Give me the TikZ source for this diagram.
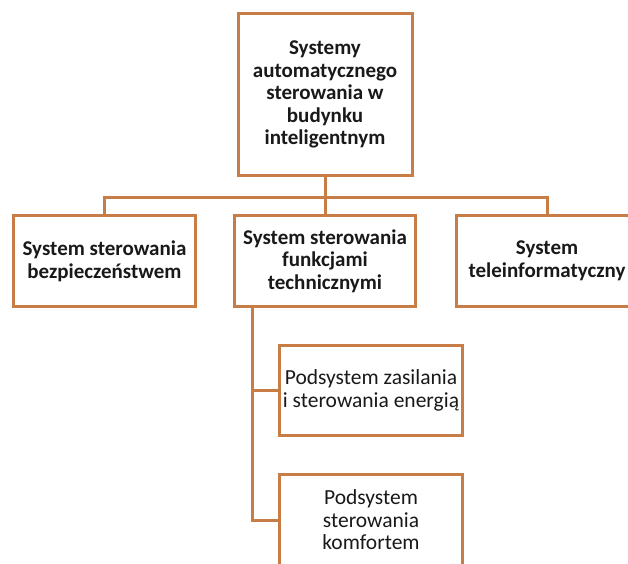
\documentclass[tikz,border=0pt]{standalone}
\usepackage{fontspec}
\setmainfont{Carlito}
\usepackage{xcolor}
\usepackage{tikz}
\usetikzlibrary{positioning}

\definecolor{ramka}{RGB}{200,125,70}
\definecolor{tekst}{RGB}{25,25,25}

\begin{document}
\begin{tikzpicture}[x=1pt, y=-1pt,
    box/.style={draw=ramka, line width=3pt, fill=white, align=center,
      text=tekst, font=\fontsize{21}{22.6}\selectfont\bfseries, inner sep=0pt},
    subbox/.style={box, font=\fontsize{21.5}{22.5}\selectfont},
    link/.style={draw=ramka, line width=3pt}]
      % Frame of the page
      \useasboundingbox (0,0) rectangle (628,563);
      \clip (0,0) rectangle (628,563);

      % Top level
      \node[box, minimum width=174pt, minimum height=162pt] (top) at (325,94.5)
        {Systemy\\automatycznego\\sterowania w\\budynku\\inteligentnym};

      % Second level
      \node[box, minimum width=182pt, minimum height=91pt] (bezp) at (104.5,261)
        {System sterowania\\bezpieczeństwem};
      \node[box, minimum width=181pt, minimum height=91pt] (funk) at (325,261)
        {System sterowania\\funkcjami\\technicznymi};
      \node[box, minimum width=181pt, minimum height=91pt] (tele) at (547,261)
        {System\\teleinformatyczny};

      % Subsystems
      \node[subbox, minimum width=183pt, minimum height=90pt] (energ) at (371,390.5)
        {Podsystem zasilania\\i sterowania energią};
      \node[subbox, minimum width=183pt, minimum height=91pt] (komf) at (371,520)
        {Podsystem\\sterowania\\komfortem};

      % Connectors
      \coordinate (bar) at (325,197);
      \coordinate (trunk) at ([xshift=19pt]funk.south west);
      \draw[link] (top.south) -- (funk.north);
      \draw[link] (bezp.north) |- (bar) -| (tele.north);
      \draw[link] (trunk) |- (energ.west);
      \draw[link] (trunk) |- (komf.west);

    \end{tikzpicture}
\end{document}
